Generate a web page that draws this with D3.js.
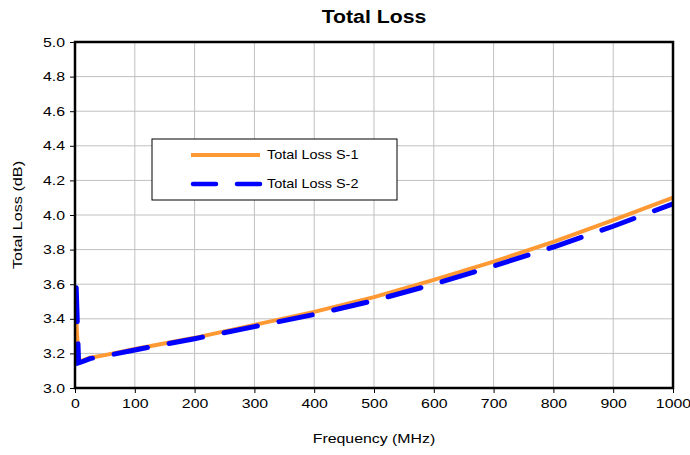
<!DOCTYPE html>
<html>
<head>
<meta charset="utf-8">
<script src="https://cdn.jsdelivr.net/npm/d3@7"></script>
<style>
  body { margin: 0; background: #fff; }
  text { font-family: Arial, "Liberation Sans", sans-serif; }
</style>
</head>
<body>
<svg width="690" height="455"></svg>
<script>
// frequency points (MHz)
var freq = [2, 6, 12, 25, 50, 100, 200, 300, 400, 500, 600, 700, 800, 900, 1000];
var lossS1 = [3.40, 3.15, 3.158, 3.175, 3.19, 3.225, 3.29, 3.365, 3.44, 3.525, 3.625, 3.73, 3.845, 3.97, 4.10];
var lossS2 = [3.58, 3.145, 3.152, 3.17, 3.185, 3.22, 3.285, 3.355, 3.425, 3.505, 3.60, 3.705, 3.815, 3.935, 4.065];
var seriesNames = ["Total Loss S-1", "Total Loss S-2"];
var xTicks = [0, 100, 200, 300, 400, 500, 600, 700, 800, 900, 1000];
var yTicks = [3.0, 3.2, 3.4, 3.6, 3.8, 4.0, 4.2, 4.4, 4.6, 4.8, 5.0];

var svg = d3.select("svg");
var pLeft = 75, pRight = 673, pTop = 42, pBottom = 388;

var x = d3.scaleLinear().domain([0, 1000]).range([pLeft, pRight]);
var y = d3.scaleLinear().domain([3.0, 5.0]).range([pBottom, pTop]);

// the original picture is a bit wider than tall, so widen the text
function stretch(sel, k) {
    sel.each(function() {
        var w = this.getComputedTextLength();
        d3.select(this).attr("textLength", w * k).attr("lengthAdjust", "spacingAndGlyphs");
    });
}

// grid
svg.append("g").selectAll("line")
    .data(xTicks.slice(1, -1))
    .enter().append("line")
    .attr("x1", function(d) { return x(d); })
    .attr("x2", function(d) { return x(d); })
    .attr("y1", pTop).attr("y2", pBottom)
    .attr("stroke", "#c0c0c0").attr("stroke-width", 1);

svg.append("g").selectAll("line")
    .data(yTicks.slice(1, -1))
    .enter().append("line")
    .attr("x1", pLeft).attr("x2", pRight)
    .attr("y1", function(d) { return y(d); })
    .attr("y2", function(d) { return y(d); })
    .attr("stroke", "#c0c0c0").attr("stroke-width", 1);

// axes
var xAxis = d3.axisBottom(x).tickValues(xTicks).tickSize(5).tickPadding(6).tickFormat(d3.format("d"));
var yAxis = d3.axisLeft(y).tickValues(yTicks).tickSize(5).tickPadding(5).tickFormat(d3.format(".1f"));

var gx = svg.append("g").attr("transform", "translate(0," + pBottom + ")").call(xAxis);
var gy = svg.append("g").attr("transform", "translate(" + pLeft + ",0)").call(yAxis);
[gx, gy].forEach(function(g) {
    g.select(".domain").remove();
    g.selectAll(".tick line").attr("stroke", "#000").attr("stroke-width", 1);
    g.selectAll(".tick text").attr("fill", "#000").style("font-size", "13px")
        .style("font-family", "Arial, 'Liberation Sans', sans-serif");
    stretch(g.selectAll(".tick text"), 1.22);
});

// lines
var line = d3.line()
    .x(function(d) { return x(d[0]); })
    .y(function(d) { return y(d[1]); });

svg.append("clipPath").attr("id", "clip")
    .append("rect").attr("x", pLeft).attr("y", pTop)
    .attr("width", pRight - pLeft).attr("height", pBottom - pTop);

var plot = svg.append("g").attr("clip-path", "url(#clip)");

plot.append("path")
    .datum(d3.zip(freq, lossS1))
    .attr("d", line)
    .attr("fill", "none")
    .attr("stroke", "#ff9933")
    .attr("stroke-width", 4);

plot.append("path")
    .datum(d3.zip(freq, lossS2))
    .attr("d", line)
    .attr("fill", "none")
    .attr("stroke", "#0000ff")
    .attr("stroke-width", 5)
    .attr("stroke-linecap", "round")
    .attr("stroke-dasharray", "34,22");

// frame
svg.append("rect")
    .attr("x", pLeft).attr("y", pTop)
    .attr("width", pRight - pLeft).attr("height", pBottom - pTop)
    .attr("fill", "none").attr("stroke", "#000").attr("stroke-width", 2.5);

// title and axis labels
var title = svg.append("text").attr("x", (pLeft + pRight) / 2).attr("y", 23)
    .attr("text-anchor", "middle").style("font-size", "18px").style("font-weight", "bold")
    .text("Total Loss");
stretch(title, 1.18);

var xl = svg.append("text").attr("x", (pLeft + pRight) / 2).attr("y", 443)
    .attr("text-anchor", "middle").style("font-size", "13px")
    .text("Frequency (MHz)");
stretch(xl, 1.22);

var yl = svg.append("text")
    .attr("transform", "translate(22," + ((pTop + pBottom) / 2) + ") rotate(-90)")
    .attr("text-anchor", "middle").style("font-size", "13.5px")
    .text("Total Loss (dB)");
stretch(yl, 1.2);

// legend
var lg = svg.append("g");
lg.append("rect").attr("x", 152).attr("y", 139).attr("width", 245).attr("height", 61)
    .attr("fill", "#fff").attr("stroke", "#000").attr("stroke-width", 1);

lg.append("line").attr("x1", 191).attr("x2", 260).attr("y1", 155).attr("y2", 155)
    .attr("stroke", "#ff9933").attr("stroke-width", 4);
lg.append("line").attr("x1", 193).attr("x2", 260).attr("y1", 184).attr("y2", 184)
    .attr("stroke", "#0000ff").attr("stroke-width", 4.5)
    .attr("stroke-linecap", "round").attr("stroke-dasharray", "23,21");

var lt = lg.selectAll("text.lab").data(seriesNames).enter().append("text")
    .attr("class", "lab")
    .attr("x", 267)
    .attr("y", function(d, i) { return 159 + i * 29; })
    .style("font-size", "13px")
    .text(function(d) { return d; });
stretch(lt, 1.11);
</script>
</body>
</html>
